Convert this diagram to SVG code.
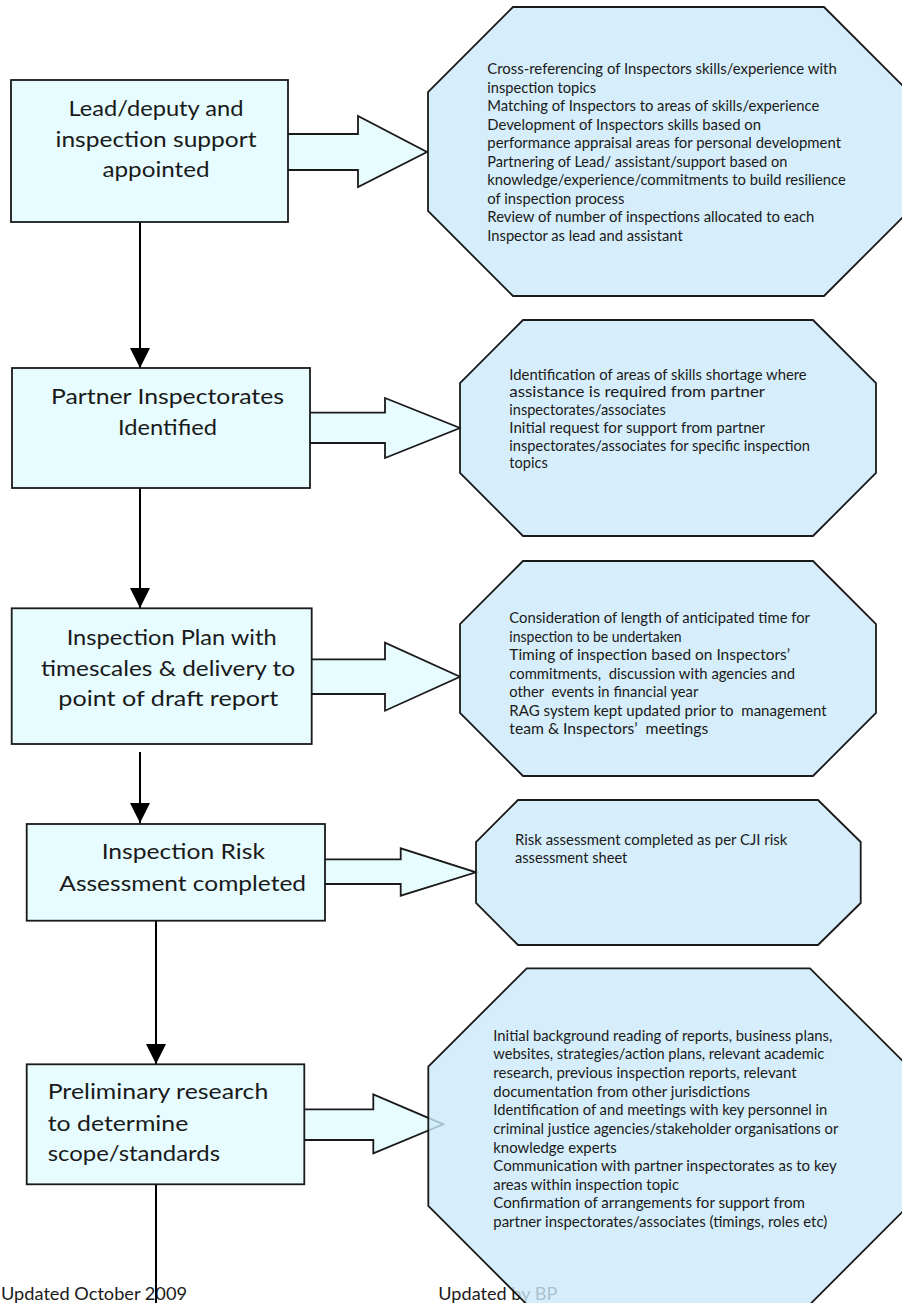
<svg xmlns="http://www.w3.org/2000/svg" width="902" height="1303" viewBox="0 0 902 1303">
<style>
.box{fill:#E6FCFF;stroke:#1a1a1a;stroke-width:1.8}
.blk{fill:#E6FCFF;stroke:#1a1a1a;stroke-width:1.8;stroke-linejoin:miter}
.oct{fill:#CCEAFA;fill-opacity:0.8;stroke:#1a1a1a;stroke-width:1.8}
.conn{stroke:#000;stroke-width:2;fill:none}
.t{font-family:Lato,'Liberation Sans',sans-serif;fill:#1a1a1a}
.title{font-size:22px}
.mid{text-anchor:middle}
.body{font-size:15px}
.foot{font-size:18px}
</style>
<defs>
<marker id="ah" markerUnits="userSpaceOnUse" markerWidth="20" markerHeight="20" viewBox="0 0 20 20" refX="20" refY="10" orient="auto">
<path d="M0,0 L20,10 L0,20 z" fill="#000"/>
</marker>
</defs>
<rect width="902" height="1303" fill="#fff"/>

<g id="footer">
<text class="t foot" x="1" y="1300" textLength="186" lengthAdjust="spacingAndGlyphs">Updated October 2009</text>
<text class="t foot" x="438.3" y="1300" textLength="119" lengthAdjust="spacingAndGlyphs">Updated by BP</text>
</g>

<g id="connectors">
<line class="conn" x1="140" y1="222" x2="140" y2="368" marker-end="url(#ah)"/>
<line class="conn" x1="140" y1="488" x2="140" y2="608" marker-end="url(#ah)"/>
<line class="conn" x1="140" y1="752" x2="140" y2="823" marker-end="url(#ah)"/>
<line class="conn" x1="156" y1="921" x2="156" y2="1064" marker-end="url(#ah)"/>
<line class="conn" x1="156" y1="1184" x2="156" y2="1305"/>
<polygon class="blk" points="286,134 358,134 358,116 427,152 358,187 358,170 286,170"/>
<polygon class="blk" points="308,412.7 385,412.7 385,398 460,428 385,458 385,443 308,443"/>
<polygon class="blk" points="309.7,659.3 385,659.3 385,642.7 460,676.7 385,710.7 385,694 309.7,694"/>
<polygon class="blk" points="323,859.3 400.7,859.3 400.7,848.3 476,872.3 400.7,895.7 400.7,884 323,884"/>
<polygon class="blk" points="302.3,1109.3 373.3,1109.3 373.3,1094.3 443.3,1124.3 373.3,1153.3 373.3,1140 302.3,1140"/>
</g>

<g id="node-lead">
<rect class="box" x="11" y="80" width="277" height="142"/>
<text class="t title mid" x="156" y="116" textLength="175" lengthAdjust="spacingAndGlyphs">Lead/deputy and</text>
<text class="t title mid" x="156" y="146.7" textLength="201" lengthAdjust="spacingAndGlyphs">inspection support</text>
<text class="t title mid" x="156" y="177.3" textLength="107" lengthAdjust="spacingAndGlyphs">appointed</text>
</g>

<g id="detail-lead">
<polygon class="oct" points="513,7 824,7 909,92 909,211 824,296 513,296 428,211 428,92"/>
<text class="t body" x="487.3" y="74" textLength="349.4" lengthAdjust="spacingAndGlyphs">Cross-referencing of Inspectors skills/experience with</text>
<text class="t body" x="487.3" y="92.5" textLength="108.7" lengthAdjust="spacingAndGlyphs">inspection topics</text>
<text class="t body" x="487.3" y="111" textLength="332" lengthAdjust="spacingAndGlyphs">Matching of Inspectors to areas of skills/experience</text>
<text class="t body" x="487.3" y="129.5" textLength="273.7" lengthAdjust="spacingAndGlyphs">Development of Inspectors skills based on</text>
<text class="t body" x="487.3" y="148" textLength="353.7" lengthAdjust="spacingAndGlyphs">performance appraisal areas for personal development</text>
<text class="t body" x="487.3" y="166.5" textLength="300" lengthAdjust="spacingAndGlyphs">Partnering of Lead/ assistant/support based on</text>
<text class="t body" x="487.3" y="185" textLength="358.4" lengthAdjust="spacingAndGlyphs">knowledge/experience/commitments to build resilience</text>
<text class="t body" x="487.3" y="203.5" textLength="137" lengthAdjust="spacingAndGlyphs">of inspection process</text>
<text class="t body" x="487.3" y="222" textLength="327" lengthAdjust="spacingAndGlyphs">Review of number of inspections allocated to each</text>
<text class="t body" x="487.3" y="240.5" textLength="195.4" lengthAdjust="spacingAndGlyphs">Inspector as lead and assistant</text>
</g>

<g id="node-partner">
<rect class="box" x="12" y="368" width="298" height="120"/>
<text class="t title mid" x="167.5" y="404" textLength="233" lengthAdjust="spacingAndGlyphs">Partner Inspectorates</text>
<text class="t title mid" x="167.5" y="434.7" textLength="99" lengthAdjust="spacingAndGlyphs">Identified</text>
</g>

<g id="detail-partner">
<polygon class="oct" points="523,320 813,320 876,383 876,473 813,536 523,536 460,473 460,383"/>
<text class="t body" x="509.3" y="379.7" textLength="297.4" lengthAdjust="spacingAndGlyphs">Identification of areas of skills shortage where</text>
<text class="t body" x="509.3" y="397.4" textLength="255.7" lengthAdjust="spacingAndGlyphs">assistance is required from partner</text>
<text class="t body" x="509.3" y="415.1" textLength="156.4" lengthAdjust="spacingAndGlyphs">inspectorates/associates</text>
<text class="t body" x="509.3" y="432.9" textLength="255.7" lengthAdjust="spacingAndGlyphs">Initial request for support from partner</text>
<text class="t body" x="509.3" y="450.6" textLength="300.7" lengthAdjust="spacingAndGlyphs">inspectorates/associates for specific inspection</text>
<text class="t body" x="509.3" y="468.3" textLength="38.4" lengthAdjust="spacingAndGlyphs">topics</text>
</g>

<g id="node-plan">
<rect class="box" x="11.7" y="608.3" width="300" height="135.7"/>
<text class="t title mid" x="171.7" y="645" textLength="210" lengthAdjust="spacingAndGlyphs">Inspection Plan with</text>
<text class="t title mid" x="168" y="675.5" textLength="254" lengthAdjust="spacingAndGlyphs">timescales &amp; delivery to</text>
<text class="t title mid" x="168.3" y="706" textLength="220" lengthAdjust="spacingAndGlyphs">point of draft report</text>
</g>

<g id="detail-plan">
<polygon class="oct" points="523,561 813,561 876,624 876,713 813,776 523,776 460,713 460,624"/>
<text class="t body" x="509.3" y="623" textLength="300.7" lengthAdjust="spacingAndGlyphs">Consideration of length of anticipated time for</text>
<text class="t body" x="509.3" y="641.5" textLength="172.4" lengthAdjust="spacingAndGlyphs">inspection to be undertaken</text>
<text class="t body" x="509.3" y="660" textLength="280.7" lengthAdjust="spacingAndGlyphs">Timing of inspection based on Inspectors’</text>
<text class="t body" x="509.3" y="678.5" textLength="285.7" lengthAdjust="spacingAndGlyphs" xml:space="preserve">commitments,  discussion with agencies and</text>
<text class="t body" x="509.3" y="697" textLength="189" lengthAdjust="spacingAndGlyphs" xml:space="preserve">other  events in financial year</text>
<text class="t body" x="509.3" y="715.5" textLength="317.4" lengthAdjust="spacingAndGlyphs" xml:space="preserve">RAG system kept updated prior to  management</text>
<text class="t body" x="509.3" y="734" textLength="199" lengthAdjust="spacingAndGlyphs" xml:space="preserve">team &amp; Inspectors’  meetings</text>
</g>

<g id="node-risk">
<rect class="box" x="26.7" y="824" width="298.3" height="96.7"/>
<text class="t title mid" x="183.3" y="859.3" textLength="163.3" lengthAdjust="spacingAndGlyphs">Inspection Risk</text>
<text class="t title mid" x="182.7" y="890.5" textLength="246.7" lengthAdjust="spacingAndGlyphs">Assessment completed</text>
</g>

<g id="detail-risk">
<polygon class="oct" points="518,800 818,800 860.7,842 860.7,903 818,945 518,945 476,903 476,842"/>
<text class="t body" x="515" y="845" textLength="272.3" lengthAdjust="spacingAndGlyphs">Risk assessment completed as per CJI risk</text>
<text class="t body" x="515" y="863.3" textLength="112.3" lengthAdjust="spacingAndGlyphs">assessment sheet</text>
</g>

<g id="node-research">
<rect class="box" x="26.7" y="1064.3" width="277.6" height="120"/>
<text class="t title" x="47.7" y="1099.3" textLength="220.6" lengthAdjust="spacingAndGlyphs">Preliminary research</text>
<text class="t title" x="47.7" y="1130.7" textLength="140.6" lengthAdjust="spacingAndGlyphs">to determine</text>
<text class="t title" x="47.7" y="1160.7" textLength="172.3" lengthAdjust="spacingAndGlyphs">scope/standards</text>
</g>

<g id="detail-research">
<polygon class="oct" points="526.7,968.3 810,968.3 908.3,1066.6 908.3,1206 810,1304.3 526.7,1304.3 428.3,1206 428.3,1066.6"/>
<text class="t body" x="493.3" y="1040.7" textLength="339" lengthAdjust="spacingAndGlyphs">Initial background reading of reports, business plans,</text>
<text class="t body" x="493.3" y="1059.3" textLength="331" lengthAdjust="spacingAndGlyphs">websites, strategies/action plans, relevant academic</text>
<text class="t body" x="493.3" y="1077.9" textLength="303.4" lengthAdjust="spacingAndGlyphs">research, previous inspection reports, relevant</text>
<text class="t body" x="493.3" y="1096.6" textLength="256.7" lengthAdjust="spacingAndGlyphs">documentation from other jurisdictions</text>
<text class="t body" x="493.3" y="1115.2" textLength="334" lengthAdjust="spacingAndGlyphs">Identification of and meetings with key personnel in</text>
<text class="t body" x="493.3" y="1133.8" textLength="345" lengthAdjust="spacingAndGlyphs">criminal justice agencies/stakeholder organisations or</text>
<text class="t body" x="493.3" y="1152.5" textLength="123.4" lengthAdjust="spacingAndGlyphs">knowledge experts</text>
<text class="t body" x="493.3" y="1171.1" textLength="343.4" lengthAdjust="spacingAndGlyphs">Communication with partner inspectorates as to key</text>
<text class="t body" x="493.3" y="1189.7" textLength="185.7" lengthAdjust="spacingAndGlyphs">areas within inspection topic</text>
<text class="t body" x="493.3" y="1208.4" textLength="311.7" lengthAdjust="spacingAndGlyphs">Confirmation of arrangements for support from</text>
<text class="t body" x="493.3" y="1227" textLength="334" lengthAdjust="spacingAndGlyphs">partner inspectorates/associates (timings, roles etc)</text>
</g>
</svg>
